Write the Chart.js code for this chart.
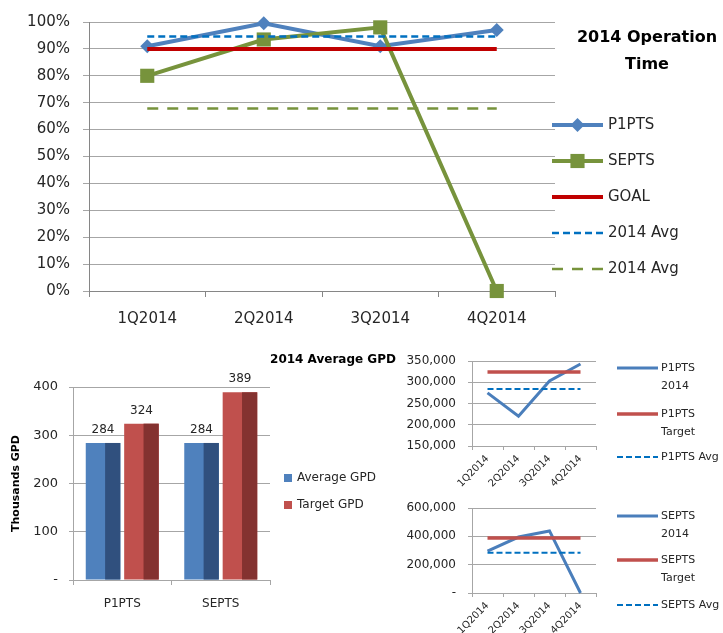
<!DOCTYPE html>
<html>
<head>
<meta charset="utf-8">
<script src="https://cdn.jsdelivr.net/npm/chart.js@4.4.1/dist/chart.umd.min.js"></script>
<style>
  body { margin: 0; background: #fff; }
  #wrap { position: relative; width: 723px; height: 633px; }
  .box { position: absolute; }
</style>
</head>
<body>
<div id="wrap">
  <div class="box" style="left:0;top:0;width:723px;height:330px"><canvas id="uptime"></canvas></div>
  <div class="box" style="left:0;top:340px;width:400px;height:293px"><canvas id="gpd"></canvas></div>
  <div class="box" style="left:400px;top:485px;width:323px;height:148px"><canvas id="septs"></canvas></div>
  <div class="box" style="left:400px;top:340px;width:323px;height:165px"><canvas id="p1pts"></canvas></div>
</div>
<script>
// operation time (%)
const quarters = ['1Q2014', '2Q2014', '3Q2014', '4Q2014'];
const p1ptsUptime = [91, 99.5, 91, 97];
const septsUptime = [80, 93.5, 98, 0];
const goalUptime = [90, 90, 90, 90];
const p1ptsAvgUptime = [94.6, 94.6, 94.6, 94.6];
const septsAvgUptime = [67.8, 67.8, 67.8, 67.8];

// average GPD, thousands
const plants = ['P1PTS', 'SEPTS'];
const averageGpd = [284, 284];
const targetGpd = [324, 389];

// quarterly GPD
const p1ptsGpd = [275000, 220000, 303000, 343000];
const p1ptsTarget = [324000, 324000, 324000, 324000];
const p1ptsAvg = [284000, 284000, 284000, 284000];
const septsGpd = [296000, 395000, 438000, 0];
const septsTarget = [389000, 389000, 389000, 389000];
const septsAvg = [284000, 284000, 284000, 284000];

Chart.defaults.font.family = 'DejaVu Sans';
Chart.defaults.color = '#262626';
Chart.defaults.animation = false;

const FONT = 'DejaVu Sans';

function drawMarker(ctx, style, r, x, y, color) {
    ctx.fillStyle = color;
    ctx.beginPath();
    if (style === 'rectRot') {
        ctx.moveTo(x, y - r);
        ctx.lineTo(x + r, y);
        ctx.lineTo(x, y + r);
        ctx.lineTo(x - r, y);
        ctx.closePath();
    } else {
        const s = r * Math.SQRT1_2;
        ctx.rect(x - s, y - s, 2 * s, 2 * s);
    }
    ctx.fill();
}

// titles + legend placed beside the plot, styled from the datasets
const sideLegend = {
    id: 'sideLegend',
    afterDraw(chart, args, opts) {
        const ctx = chart.ctx;
        ctx.save();
        ctx.textBaseline = 'middle';
        ctx.textAlign = 'center';
        ctx.fillStyle = '#000';
        (opts.titles || []).forEach(t => {
            ctx.font = t.font;
            ctx.fillText(t.text, t.x, t.y);
        });
        ctx.textAlign = 'left';
        ctx.font = opts.font;
        (opts.entries || []).forEach(e => {
            const ds = chart.data.datasets[e.index];
            if (opts.swatch) {
                ctx.fillStyle = ds.backgroundColor;
                ctx.fillRect(opts.x1, e.y - opts.swatch / 2, opts.swatch, opts.swatch);
            } else {
                ctx.strokeStyle = ds.borderColor;
                ctx.lineWidth = ds.borderWidth;
                ctx.setLineDash(ds.borderDash || []);
                ctx.beginPath();
                ctx.moveTo(opts.x1, e.y);
                ctx.lineTo(opts.x2, e.y);
                ctx.stroke();
                ctx.setLineDash([]);
                if (ds.pointRadius) {
                    drawMarker(ctx, ds.pointStyle, ds.pointRadius, (opts.x1 + opts.x2) / 2, e.y, ds.backgroundColor);
                }
            }
            ctx.fillStyle = '#262626';
            let lines = [ds.label];
            if (e.wrap) {
                const cut = ds.label.indexOf(' ');
                lines = [ds.label.slice(0, cut), ds.label.slice(cut + 1)];
            }
            lines.forEach((l, i) => ctx.fillText(l, opts.textX, e.y + i * (opts.lineGap || 0)));
        });
        ctx.restore();
    }
};

// fake the 3D column look: darker side face + value on top
const barFaces = {
    id: 'barFaces',
    afterDatasetsDraw(chart, args, opts) {
        const ctx = chart.ctx;
        ctx.save();
        chart.data.datasets.forEach((ds, i) => {
            chart.getDatasetMeta(i).data.forEach((bar, j) => {
                const p = bar.getProps(['x', 'y', 'base', 'width'], true);
                ctx.fillStyle = opts.sideColors[i];
                ctx.fillRect(p.x + p.width * 0.06, p.y, p.width * 0.44, p.base - p.y);
                ctx.fillStyle = '#262626';
                ctx.font = '12px ' + FONT;
                ctx.textAlign = 'center';
                ctx.textBaseline = 'bottom';
                ctx.fillText(ds.data[j], p.x, p.y - 7);
            });
        });
        ctx.restore();
    }
};

/*------------------------------------------operation time----------------------------------------------- */
new Chart(document.getElementById('uptime'), {
    type: 'line',
    data: {
        labels: quarters,
        datasets: [
            { label: 'P1PTS', data: p1ptsUptime, borderColor: '#4F81BD', backgroundColor: '#4F81BD', borderWidth: 4,
              pointStyle: 'rectRot', pointRadius: 7, pointBorderWidth: 0, clip: false, order: 5 },
            { label: 'SEPTS', data: septsUptime, borderColor: '#77933C', backgroundColor: '#77933C', borderWidth: 4,
              pointStyle: 'rect', pointRadius: 10, pointBorderWidth: 0, clip: false, order: 4 },
            { label: 'GOAL', data: goalUptime, borderColor: '#C00000', backgroundColor: '#C00000', borderWidth: 4,
              pointRadius: 0, order: 3 },
            { label: '2014 Avg', data: p1ptsAvgUptime, borderColor: '#0070C0', backgroundColor: '#0070C0', borderWidth: 2.5,
              borderDash: [7, 4], pointRadius: 0, order: 2 },
            { label: '2014 Avg', data: septsAvgUptime, borderColor: '#77933C', backgroundColor: '#77933C', borderWidth: 2.5,
              borderDash: [11, 9], pointRadius: 0, order: 1 }
        ]
    },
    options: {
        responsive: true,
        maintainAspectRatio: false,
        layout: { padding: { top: 18, right: 168, left: 0, bottom: 0 } },
        elements: { line: { tension: 0 } },
        plugins: {
            legend: { display: false },
            tooltip: { enabled: false },
            sideLegend: {
                titles: [
                    { text: '2014 Operation', x: 647, y: 38, font: 'bold 16px ' + FONT },
                    { text: 'Time', x: 647, y: 65, font: 'bold 16px ' + FONT }
                ],
                font: '15px ' + FONT,
                x1: 552, x2: 603, textX: 608,
                entries: [
                    { index: 0, y: 125 }, { index: 1, y: 161 }, { index: 2, y: 197 },
                    { index: 3, y: 233 }, { index: 4, y: 269 }
                ]
            }
        },
        scales: {
            x: {
                offset: true,
                grid: { offset: true, drawOnChartArea: false, tickLength: 6, color: '#868686' },
                border: { color: '#868686' },
                ticks: { font: { size: 15 }, padding: 13 },
                afterFit: s => { s.height = 39; }
            },
            y: {
                min: 0, max: 100,
                ticks: { stepSize: 10, font: { size: 15 }, padding: 13, callback: v => v + '%' },
                grid: { color: '#A6A6A6', tickLength: 6 },
                border: { color: '#868686' },
                afterFit: s => { s.width = 89; }
            }
        }
    },
    plugins: [sideLegend]
});

/*------------------------------------------average GPD bars----------------------------------------------- */
new Chart(document.getElementById('gpd'), {
    type: 'bar',
    data: {
        labels: plants,
        datasets: [
            { label: 'Average GPD', data: averageGpd, backgroundColor: '#4F81BD' },
            { label: 'Target GPD', data: targetGpd, backgroundColor: '#C0504D' }
        ]
    },
    options: {
        responsive: true,
        maintainAspectRatio: false,
        layout: { padding: { top: 47, right: 130, left: 0, bottom: 0 } },
        categoryPercentage: 0.78,
        barPercentage: 0.9,
        plugins: {
            legend: { display: false },
            tooltip: { enabled: false },
            barFaces: { sideColors: ['#30507E', '#843230'] },
            sideLegend: {
                titles: [{ text: '2014 Average GPD', x: 333, y: 20, font: 'bold 12px ' + FONT }],
                font: '12px ' + FONT,
                swatch: 8, x1: 284, textX: 297,
                entries: [{ index: 0, y: 138 }, { index: 1, y: 165 }]
            }
        },
        scales: {
            x: {
                grid: { offset: true, drawOnChartArea: false, tickLength: 5, color: '#A6A6A6' },
                border: { color: '#A6A6A6' },
                ticks: { font: { size: 12 }, padding: 12 },
                afterFit: s => { s.height = 53; }
            },
            y: {
                min: 0, max: 400,
                ticks: { stepSize: 100, font: { size: 13 }, padding: 11, callback: v => v === 0 ? '-' : v },
                grid: { color: '#A6A6A6', tickLength: 4 },
                border: { color: '#A6A6A6' },
                title: { display: true, text: 'Thousands GPD', font: { size: 11, weight: 'bold' }, color: '#000',
                         padding: { top: 10, bottom: 0 } },
                afterFit: s => { s.width = 73; }
            }
        }
    },
    plugins: [barFaces, sideLegend]
});

/*------------------------------------------quarterly GPD lines----------------------------------------------- */
function gpdTrend(id, name, actual, target, avg, yScale, plotTop, axisH, legendY) {
    new Chart(document.getElementById(id), {
        type: 'line',
        data: {
            labels: quarters,
            datasets: [
                { label: name + ' 2014', data: actual, borderColor: '#4A7EBB', backgroundColor: '#4A7EBB',
                  borderWidth: 3, pointRadius: 0, clip: false, order: 3 },
                { label: name + ' Target', data: target, borderColor: '#C0504D', backgroundColor: '#C0504D',
                  borderWidth: 3.5, pointRadius: 0, order: 2 },
                { label: name + ' Avg', data: avg, borderColor: '#0070C0', backgroundColor: '#0070C0',
                  borderWidth: 2, borderDash: [6, 3], pointRadius: 0, order: 1 }
            ]
        },
        options: {
            responsive: true,
            maintainAspectRatio: false,
            layout: { padding: { top: plotTop, right: 127, left: 0, bottom: 0 } },
            elements: { line: { tension: 0 } },
            plugins: {
                legend: { display: false },
                tooltip: { enabled: false },
                sideLegend: {
                    font: '11px ' + FONT,
                    x1: 217, x2: 258, textX: 261, lineGap: 18,
                    entries: [
                        { index: 0, y: legendY[0], wrap: true },
                        { index: 1, y: legendY[1], wrap: true },
                        { index: 2, y: legendY[2] }
                    ]
                }
            },
            scales: {
                x: {
                    offset: true,
                    grid: { offset: true, drawOnChartArea: false, tickLength: 4, color: '#A6A6A6' },
                    border: { color: '#A6A6A6' },
                    ticks: { font: { size: 10 }, minRotation: 45, maxRotation: 45, padding: 3 },
                    afterFit: s => { s.height = axisH; }
                },
                y: {
                    min: yScale.min, max: yScale.max,
                    ticks: { stepSize: yScale.step, font: { size: 12 }, padding: 12,
                             callback: v => v === 0 ? '-' : v.toLocaleString('en-US') },
                    grid: { color: '#A6A6A6', tickLength: 4 },
                    border: { color: '#A6A6A6' },
                    afterFit: s => { s.width = 72; }
                }
            }
        },
        plugins: [sideLegend]
    });
}

gpdTrend('p1pts', 'P1PTS', p1ptsGpd, p1ptsTarget, p1ptsAvg,
    { min: 150000, max: 350000, step: 50000 }, 21, 59, [28, 74, 117]);
gpdTrend('septs', 'SEPTS', septsGpd, septsTarget, septsAvg,
    { min: 0, max: 600000, step: 200000 }, 23, 40, [31, 75, 120]);
</script>
</body>
</html>
